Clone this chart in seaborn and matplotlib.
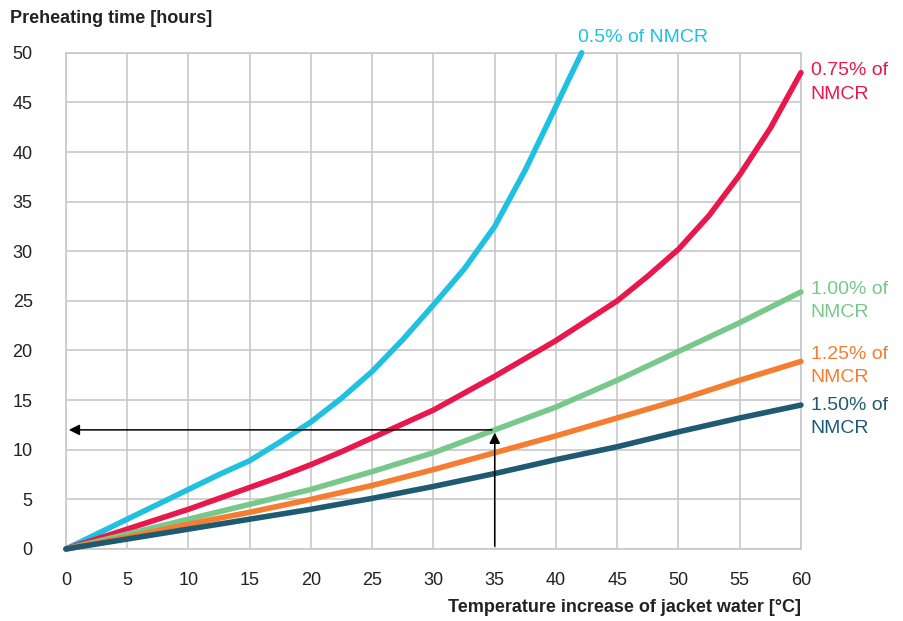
import numpy as np
import pandas as pd
import matplotlib
matplotlib.use('Agg')
import matplotlib.pyplot as plt
import seaborn as sns

# data
temp_050 = [0, 2.5, 5, 7.5, 10, 12.5, 15, 17.5, 20, 22.5, 25, 27.5, 30, 32.5, 35, 37.5, 40, 41, 42.1]
nmcr_050 = [0, 1.5, 3.0, 4.5, 6.0, 7.5, 8.9, 10.8, 12.8, 15.2, 17.9, 21.1, 24.6, 28.2, 32.5, 38.2, 44.6, 47.2, 50.0]
temp_075 = [0, 2.5, 5, 7.5, 10, 12.5, 15, 17.5, 20, 22.5, 25, 27.5, 30, 32.5, 35,
            37.5, 40, 42.5, 45, 47.5, 50, 52.5, 55, 57.5, 60]
nmcr_075 = [0, 1.0, 2.0, 3.0, 4.0, 5.1, 6.2, 7.3, 8.5, 9.8, 11.2, 12.6, 14.0, 15.7, 17.4,
            19.2, 21.0, 23.0, 25.0, 27.5, 30.2, 33.6, 37.7, 42.4, 48.0]
temp = [0, 5, 10, 15, 20, 25, 30, 35, 40, 45, 50, 55, 60]
nmcr_100 = [0, 1.5, 3.0, 4.5, 6.0, 7.8, 9.7, 12.0, 14.3, 17.0, 19.9, 22.8, 25.9]
nmcr_125 = [0, 1.2, 2.5, 3.7, 5.0, 6.4, 8.0, 9.7, 11.4, 13.2, 15.0, 17.0, 18.9]
nmcr_150 = [0, 1.0, 2.0, 3.0, 4.0, 5.1, 6.3, 7.6, 9.0, 10.3, 11.8, 13.2, 14.5]

series = ['0.5%', '0.75%', '1.00%', '1.25%', '1.50%']
labels = ['0.5% of NMCR', '0.75% of\nNMCR', '1.00% of\nNMCR', '1.25% of\nNMCR', '1.50% of\nNMCR']
colors = ['#1FC0E0', '#E8184C', '#78C88C', '#F47D31', '#1F5A73']

rows = []
for name, xs, ys in [('0.5%', temp_050, nmcr_050), ('0.75%', temp_075, nmcr_075),
                     ('1.00%', temp, nmcr_100), ('1.25%', temp, nmcr_125),
                     ('1.50%', temp, nmcr_150)]:
    for x, y in zip(xs, ys):
        rows.append({'temp': x, 'hours': y, 'load': name})
df = pd.DataFrame(rows)

sns.set_style('white')
plt.rcParams['font.family'] = ['Liberation Sans', 'DejaVu Sans']

fig = plt.figure(figsize=(9.04, 6.21), dpi=100)
ax = fig.add_axes([0.073, 0.116, 0.813, 0.799])

sns.lineplot(data=df, x='temp', y='hours', hue='load', hue_order=series,
             palette=colors, linewidth=4, legend=False, ax=ax, zorder=3)
for ln in ax.lines:
    ln.set_solid_joinstyle('round')
    ln.set_clip_on(False)

ax.set_xlim(0, 60)
ax.set_ylim(0, 50)
ax.set_xticks(range(0, 61, 5))
ax.set_yticks(range(0, 51, 5))
ax.grid(True, color='#C8C8C8', linewidth=1.2)
for s in ax.spines.values():
    s.set_color('#C8C8C8')
    s.set_linewidth(1.2)
ax.tick_params(length=0, labelsize=13, colors='#222222')
ax.tick_params(axis='x', pad=16.5)
ax.tick_params(axis='y', pad=24)
ax.set_xlabel('')
ax.set_ylabel('')

# reading example arrows at 35 degC
ax.annotate('', xy=(0, 12), xytext=(35, 12),
            arrowprops=dict(arrowstyle='-|>', color='black', lw=1.1, mutation_scale=16), zorder=4)
ax.annotate('', xy=(35, 12), xytext=(35, 0),
            arrowprops=dict(arrowstyle='-|>', color='black', lw=1.1, mutation_scale=16), zorder=4)

# series labels
ax.text(41.8, 51.5, labels[0], color=colors[0], fontsize=14, va='center', ha='left')
ax.text(60.8, 47.0, labels[1], color=colors[1], fontsize=14, va='center', ha='left', linespacing=1.5)
ax.text(60.8, 25.0, labels[2], color=colors[2], fontsize=14, va='center', ha='left', linespacing=1.5)
ax.text(60.8, 18.45, labels[3], color=colors[3], fontsize=14, va='center', ha='left', linespacing=1.5)
ax.text(60.8, 13.3, labels[4], color=colors[4], fontsize=14, va='center', ha='left', linespacing=1.5)

fig.text(0.011, 0.97, 'Preheating time [hours]', fontsize=13, fontweight='bold',
         color='#222222', va='center', ha='left')
fig.text(0.886, 0.022, 'Temperature increase of jacket water [°C]', fontsize=13,
         fontweight='bold', color='#222222', va='center', ha='right')

fig.savefig('out.png', dpi=100)
